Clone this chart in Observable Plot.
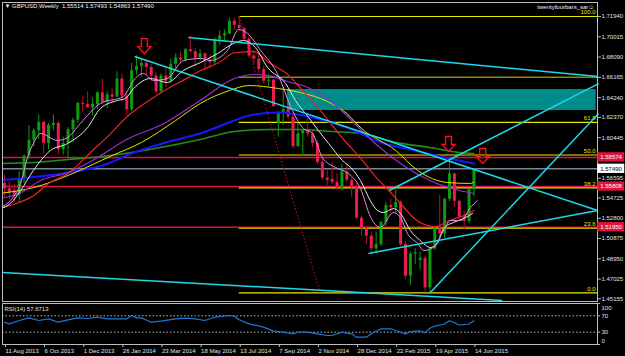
<!DOCTYPE html>
<html><head><meta charset="utf-8">
<script src="https://cdn.jsdelivr.net/npm/d3@7"></script>
<script src="https://cdn.jsdelivr.net/npm/@observablehq/plot@0.6"></script>
<style>
html,body{margin:0;padding:0;background:#000;}
#chart{width:625px;height:356px;overflow:hidden;background:#000;}
#chart svg{display:block;overflow:visible;}
</style></head><body><div id="chart"></div>
<script>
// ---------- DATA ----------
const opens  = [1.5610,1.5560,1.5540,1.5500,1.5650,1.5870,1.6020,1.6110,1.6190,1.5990,1.6160,1.6180,1.5930,1.5990,1.6120,1.6210,1.6370,1.6360,1.6330,1.6360,1.6470,1.6380,1.6450,1.6430,1.6600,1.6440,1.6310,1.6680,1.6720,1.6750,1.6710,1.6630,1.6480,1.6630,1.6580,1.6740,1.6800,1.6780,1.6880,1.6860,1.6800,1.6840,1.6780,1.6760,1.6970,1.7010,1.7030,1.7150,1.7110,1.7080,1.6980,1.6820,1.6790,1.6690,1.6580,1.6590,1.6180,1.6280,1.6310,1.6240,1.5960,1.6080,1.6110,1.6080,1.5990,1.5810,1.5660,1.5650,1.5620,1.5560,1.5720,1.5640,1.5580,1.5280,1.5180,1.5110,1.4990,1.5030,1.5240,1.5400,1.5380,1.5430,1.5030,1.4730,1.4940,1.4880,1.4900,1.4620,1.4990,1.5180,1.5130,1.5460,1.5700,1.5440,1.5290,1.5250,1.55514];
const highs  = [1.5690,1.5620,1.5600,1.5720,1.5880,1.6160,1.6130,1.6260,1.6200,1.6180,1.6260,1.6200,1.6050,1.6140,1.6230,1.6380,1.6440,1.6480,1.6420,1.6480,1.6600,1.6480,1.6510,1.6670,1.6650,1.6480,1.6750,1.6822,1.6790,1.6780,1.6740,1.6660,1.6650,1.6700,1.6790,1.6840,1.6860,1.6890,1.7007,1.6890,1.6880,1.6850,1.6830,1.6990,1.7060,1.7065,1.7180,1.7180,1.7194,1.7090,1.7000,1.6870,1.6840,1.6720,1.6640,1.6600,1.6290,1.6525,1.6350,1.6260,1.6185,1.6120,1.6230,1.6120,1.6020,1.5860,1.5740,1.5810,1.5700,1.5790,1.5790,1.5660,1.5610,1.5300,1.5200,1.5150,1.5150,1.5250,1.5430,1.5460,1.5550,1.5450,1.5060,1.4960,1.4990,1.4960,1.4920,1.5000,1.5200,1.5500,1.5470,1.5815,1.5710,1.5450,1.5350,1.5560,1.57493];
const lows   = [1.5480,1.5460,1.5430,1.5430,1.5610,1.5840,1.5960,1.6030,1.5890,1.5930,1.6110,1.5880,1.5880,1.5850,1.6000,1.6180,1.6280,1.6320,1.6250,1.6310,1.6360,1.6320,1.6370,1.6420,1.6380,1.6250,1.6290,1.6640,1.6620,1.6640,1.6580,1.6460,1.6460,1.6520,1.6560,1.6700,1.6740,1.6760,1.6850,1.6720,1.6770,1.6690,1.6700,1.6730,1.6920,1.6960,1.7020,1.7060,1.7060,1.6960,1.6800,1.6740,1.6660,1.6550,1.6530,1.6330,1.6050,1.6160,1.6220,1.5940,1.5950,1.5875,1.6050,1.5950,1.5790,1.5640,1.5590,1.5600,1.5540,1.5540,1.5620,1.5480,1.5270,1.5110,1.5030,1.4950,1.4950,1.5010,1.5200,1.5330,1.5330,1.5010,1.4700,1.4640,1.4840,1.4790,1.4580,1.4565,1.4970,1.5080,1.5090,1.5440,1.5380,1.5270,1.5170,1.5230,1.54863];
const closes = [1.5560,1.5520,1.5500,1.5650,1.5870,1.6020,1.6110,1.6190,1.5990,1.6160,1.6180,1.5930,1.5990,1.6120,1.6210,1.6370,1.6360,1.6330,1.6360,1.6470,1.6380,1.6450,1.6430,1.6600,1.6440,1.6310,1.6680,1.6720,1.6750,1.6710,1.6630,1.6480,1.6630,1.6580,1.6740,1.6800,1.6780,1.6880,1.6860,1.6800,1.6840,1.6780,1.6760,1.6970,1.7010,1.7030,1.7150,1.7110,1.7080,1.6980,1.6820,1.6790,1.6690,1.6580,1.6590,1.6340,1.6270,1.6310,1.6240,1.5960,1.6080,1.6110,1.6080,1.5990,1.5810,1.5660,1.5640,1.5620,1.5560,1.5720,1.5640,1.5580,1.5280,1.5180,1.5110,1.4990,1.5030,1.5240,1.5400,1.5380,1.5430,1.5030,1.4730,1.4940,1.4950,1.4900,1.4620,1.4990,1.5180,1.5130,1.5460,1.5700,1.5440,1.5290,1.5250,1.5550,1.57490];

const dateTickWeeks  = [0,8,16,24,32,40,48,56,64,72,80,88,96];
const dateTickLabels = ["11 Aug 2013","6 Oct 2013","1 Dec 2013","26 Jan 2014","23 Mar 2014","18 May 2014","13 Jul 2014","7 Sep 2014","2 Nov 2014","28 Dec 2014","22 Feb 2015","19 Apr 2015","14 Jun 2015"];
const priceTicks = [1.71940,1.70015,1.68090,1.66165,1.64240,1.62370,1.60445,1.58520,1.56595,1.54725,1.52800,1.50875,1.48950,1.47025,1.45155];
const rsiTicks = [0,30,70,100];

// moving averages (week, price)
const maWhiteW = [-0.8,1.2,3.3,5.9,9.4,12.9,17,19.6,23.1,24.7,26.4,29.9,33.3,36.6,40.1,43.6,46.8,48.9,51.3,53.8,57.5,59.5,62.2,64.2,66.3,69.1,70.8,72.8,74.8,76.3,77.5,79.6,81,83,85,87.1,88.5,89.8,91.8,93.9,95.7];
const maWhiteV = [1.5372,1.5420,1.5543,1.5733,1.5923,1.5989,1.6141,1.6321,1.6397,1.6416,1.6511,1.6606,1.6568,1.6682,1.6758,1.6843,1.6938,1.6966,1.6900,1.6710,1.6558,1.6397,1.6236,1.6112,1.5989,1.5828,1.5761,1.5638,1.5448,1.5353,1.5334,1.5372,1.5325,1.5164,1.5069,1.5002,1.5040,1.5183,1.5240,1.5278,1.5325];
const maVioletW = [-0.8,1.2,3.3,4.7,5.9,7.4,10.8,12.9,15.5,19.6,24.3,25.2,26.4,28.4,30.5,33.3,36.6,40.1,42.1,45.6,47.9,49.7,52.4,55.8,58.9,60.9,63,65,67.7,70.3,72.8,74.9,76.9,79.5,81,82.4,84.5,85.7,87.7,89.8,91.2,93.3,95.3,96.7];
const maVioletV = [1.5382,1.5448,1.5610,1.5856,1.5989,1.6084,1.6018,1.6046,1.6179,1.6369,1.6435,1.6492,1.6587,1.6653,1.6587,1.6606,1.6777,1.6796,1.6777,1.6871,1.7071,1.7033,1.6871,1.6653,1.6302,1.6141,1.6084,1.5856,1.5761,1.5705,1.5562,1.5287,1.5192,1.5334,1.5287,1.5135,1.5040,1.4974,1.5002,1.5164,1.5259,1.5259,1.5382,1.5448];
const maRedW = [-1,3,6,9,13,18,21,25,29,33,37,40,44,47,51,54,58,61,65,69,73,76,78,81,84,88,91,94,96];
const maRedV = [1.5372,1.5429,1.5496,1.5610,1.5705,1.5923,1.6050,1.6240,1.6380,1.6500,1.6600,1.6680,1.6760,1.6850,1.6860,1.6760,1.6640,1.6490,1.6280,1.6046,1.5840,1.5667,1.5572,1.5420,1.5270,1.5200,1.5259,1.5306,1.5353];
const maPurpleW = [-1,3,7.4,13,18,25,33,40,47,51,54,58.5,61,65,70,73.4,77,81,87,93,96];
const maPurpleV = [1.5468,1.5515,1.5638,1.5714,1.5828,1.6027,1.6188,1.6397,1.6606,1.6644,1.6634,1.6568,1.6539,1.6444,1.6255,1.6094,1.5942,1.5799,1.5638,1.5543,1.5515];
const maYellowW = [-1,6,13,22,28,35,40,46,50,56,60.5,66,70,73,80,84.5,90.6,95.3,96];
const maYellowV = [1.5515,1.5572,1.5686,1.5875,1.5999,1.6207,1.6368,1.6492,1.6539,1.6511,1.6473,1.6388,1.6274,1.6132,1.5923,1.5733,1.5619,1.5610,1.5620];
const maBlueW = [-1,13,20,26,33,40,47,50,56,63,70,77,84,90,96];
const maBlueV = [1.5640,1.5714,1.5780,1.5894,1.5999,1.6084,1.6207,1.6255,1.6283,1.6236,1.6141,1.5999,1.5923,1.5856,1.5799];
const maGreenW = [-1,6,13,20,26,33,40,47,54,60.5,67,73,80,87,93,96];
const maGreenV = [1.5799,1.5809,1.5837,1.5866,1.5904,1.5961,1.6027,1.6103,1.6122,1.6122,1.6103,1.6084,1.6000,1.5951,1.5904,1.5894];

// RSI(14)
const rsiWeeks  = [0,1,3,5,7,9,11,13,15,17,19,21,23,25,26,27,28,30,32,35,37,39,41,43,46,47,48,50,53,55,57,59,60,62,64,66,67,69,71,72,74,75,77,79,81,82,83,85,86,87,88,90,91,92,93,95,96];
const rsiValues = [54.4,50.4,58.5,65,58.5,62.6,54.4,60.2,65,63.4,66.6,62.6,62.6,62.6,70.7,65,65,54.4,56.9,62.6,64.2,62.6,58.5,66.6,70.7,69,60.2,50.4,42.3,32.5,30,26,30,30,26,22,22,30,26,17.8,17.8,26,38.3,38.3,30,26,31.6,33,29,39.6,45,50,58,53,47.6,50,57.7];

// drawn objects
const trendX1 = [26.6,37.6,-0.4,86.9,78.7,74.4];
const trendY1 = [1.6815,1.6995,1.4765,1.4566,1.5543,1.4945];
const trendX2 = [121.3,121.3,101.8,121.5,121.5,121.3];
const trendY2 = [1.5353,1.6625,1.4500,1.6274,1.6558,1.5353];
const zoneWeeks = [57.9,121.0];
const zonePrices = [1.6302,1.6501];
const hLinePrices = [1.58574,1.57490,1.55808,1.51950];
const hLineColors = ["#dc143c","#778899","#dc143c","#dc143c"];
const fibLevels = ["0.0","23.6","38.2","50.0","61.8","100.0"];
const fibPrices = [1.4572,1.5185,1.5569,1.5880,1.6190,1.7194];
const fibStartWeek = 48;
const fibDiagWeeks = [48,64.5];
const fibDiagPrices = [1.7194,1.4575];
const extraLinePrice = 1.6617;
const arrowWeeks = [28.6,90.8,97.8];
const arrowPrices = [1.6913,1.5984,1.5870];
const axisBoxPrices = [1.58574,1.57490,1.55808,1.51950];
const axisBoxFill = ["#dc143c","#ffffff","#dc143c","#dc143c"];
const axisBoxText = ["#ffffff","#000000","#ffffff","#ffffff"];

// ---------- BUILD ----------
const xMin = -0.41, xMax = 121.27;
const yMin = 1.4490, yMax = 1.7327;
const perPx = (xMax-xMin)/595;
const candles = opens.map((o,i)=>({i,o,h:highs[i],l:lows[i],c:closes[i]}));
const ser = (w,v)=>w.map((x,k)=>({w:x,v:v[k]}));
const bullC = "#0b9d0b", bearC = "#ec1c4e", bearW = "#b3122f";
const trends = trendX1.map((x,k)=>({x1:x,y1:trendY1[k],x2:trendX2[k],y2:trendY2[k]}));
const hLines = hLinePrices.map((p,k)=>({p,c:hLineColors[k]}));
const fibs = fibPrices.map((p,k)=>({p,lab:fibLevels[k],x1:fibStartWeek,x2:xMax}));
const arrows = arrowWeeks.map((w,k)=>({w,p:arrowPrices[k]}));
const boxes = axisBoxPrices.map((p,k)=>({p,x1:xMax+0.05,x2:xMax+0.05+27*perPx,fill:axisBoxFill[k],tc:axisBoxText[k],lab:p.toFixed(5)}));
const labelByWeek = new Map(dateTickWeeks.map((w,k)=>[w,dateTickLabels[k]]));
const rsiLabels = rsiTicks.map(v=>({v,x1:xMax,x2:xMax+3*perPx}));

const arrowSymbol = {draw(ctx,size){const r=Math.sqrt(size/Math.PI);const s=r/7.5;
  ctx.moveTo(-3*s,-7.5*s);ctx.lineTo(3*s,-7.5*s);ctx.lineTo(3*s,0.5*s);ctx.lineTo(6.5*s,0.5*s);
  ctx.lineTo(0,7.5*s);ctx.lineTo(-6.5*s,0.5*s);ctx.lineTo(-3*s,0.5*s);ctx.closePath();}};

const font = "'Liberation Sans', Arial, sans-serif";
const FS = 6;
const maLine = (w,v,color,sw)=>Plot.line(ser(w,v),{x:"w",y:"v",stroke:color,strokeWidth:sw,curve:"monotone-x",clip:true});
const rsiText = (vals,dy)=>Plot.text(rsiLabels.filter(d=>vals.includes(d.v)),{x:"x2",y:"v",text:d=>String(d.v),dy,dx:1,textAnchor:"start",fill:"#e0e0e0",fontSize:FS});

const main = Plot.plot({
  width:625, height:302, marginLeft:2, marginRight:28, marginTop:2, marginBottom:1,
  x:{domain:[xMin,xMax], axis:null},
  y:{domain:[yMin,yMax], axis:null},
  style:{background:"#000", fontFamily:font, fontSize:FS+"px", color:"#e0e0e0", overflow:"visible"},
  marks:[
    Plot.rect([{}],{x1:()=>zoneWeeks[0],x2:()=>zoneWeeks[1],y1:()=>zonePrices[0],y2:()=>zonePrices[1],fill:"#008b8b"}),
    Plot.ruleY(hLines,{y:"p",stroke:"c",strokeWidth:1.5}),
    Plot.ruleY([extraLinePrice],{x1:fibStartWeek,x2:xMax,stroke:"#8a8a00",strokeWidth:1.5}),
    Plot.ruleY(fibs,{y:"p",x1:"x1",x2:"x2",stroke:"#e8e800",strokeWidth:1.2}),
    Plot.text(fibs,{x:"x2",y:"p",text:"lab",textAnchor:"end",dx:-2,dy:-4,fill:"#e8e800",fontSize:FS}),
    Plot.link([{}],{x1:()=>fibDiagWeeks[0],y1:()=>fibDiagPrices[0],x2:()=>fibDiagWeeks[1],y2:()=>fibDiagPrices[1],stroke:"#e01010",strokeDasharray:"1.5,2",strokeWidth:1}),
    Plot.ruleX(candles,{x:"i",y1:"l",y2:"h",stroke:d=>d.c>=d.o?bullC:bearW,strokeWidth:1}),
    Plot.ruleX(candles,{x:"i",y1:"o",y2:"c",stroke:d=>d.c>=d.o?bullC:bearC,strokeWidth:3}),
    maLine(maGreenW,maGreenV,"#1f8f1f",1.6),
    maLine(maBlueW,maBlueV,"#1818ff",2),
    maLine(maYellowW,maYellowV,"#e0e000",1),
    maLine(maPurpleW,maPurpleV,"#9a2fd0",1.2),
    maLine(maRedW,maRedV,"#f02020",1.2),
    maLine(maWhiteW,maWhiteV,"#e8e8e8",1),
    maLine(maVioletW,maVioletV,"#e58be8",1),
    Plot.link(trends,{x1:"x1",y1:"y1",x2:"x2",y2:"y2",stroke:"#1ed8e8",strokeWidth:1.5}),
    Plot.dot(arrows,{x:"w",y:"p",r:7.5,symbol:arrowSymbol,stroke:"#ff1010",fill:"none",strokeWidth:1.4}),
    Plot.frame({stroke:"#bdbdbd"}),
    Plot.axisY({anchor:"right",ticks:priceTicks,tickFormat:d=>d.toFixed(5),tickSize:3,tickPadding:1,stroke:"#bdbdbd",fill:"#e0e0e0",fontSize:FS}),
    Plot.rect(boxes,{x1:"x1",x2:"x2",y1:d=>d.p-0.0044,y2:d=>d.p+0.0044,fill:"fill"}),
    Plot.text(boxes,{x:"x1",y:"p",text:"lab",fill:"tc",textAnchor:"start",dx:2.5,fontSize:FS}),
    Plot.text(["\u25BC GBPUSD,Weekly  1.55514 1.57493 1.54863 1.57490"],{frameAnchor:"top-left",dx:2,dy:1,lineAnchor:"top",fill:"#f0f0f0",fontSize:FS}),
    Plot.text(["twentyfourbars_sar\u263A"],{frameAnchor:"top-right",dx:-3,dy:2,lineAnchor:"top",textAnchor:"end",fill:"#f0f0f0",fontSize:FS})
  ]
});

const rsi = Plot.plot({
  width:625, height:54, marginLeft:2, marginRight:28, marginTop:1, marginBottom:12,
  x:{domain:[xMin,xMax], axis:null},
  y:{domain:[0,100], axis:null},
  style:{background:"#000", fontFamily:font, fontSize:FS+"px", color:"#e0e0e0", overflow:"visible"},
  marks:[
    Plot.ruleY([30,70],{stroke:"#bdbdbd",strokeDasharray:"1.5,2",strokeWidth:1}),
    Plot.line(ser(rsiWeeks,rsiValues),{x:"w",y:"v",stroke:"#1e78dc",strokeWidth:1.2}),
    Plot.frame({stroke:"#bdbdbd"}),
    Plot.ruleY(rsiLabels,{y:"v",x1:"x1",x2:"x2",stroke:"#bdbdbd"}),
    rsiText([100],4.5),
    rsiText([70,30],0),
    rsiText([0],-3),
    Plot.axisX({anchor:"bottom",ticks:dateTickWeeks,tickFormat:d=>labelByWeek.get(d),tickSize:3,tickPadding:1,textAnchor:"start",dx:1,stroke:"#bdbdbd",fill:"#e0e0e0",fontSize:FS}),
    Plot.text(["RSI(14) 57.6713"],{frameAnchor:"top-left",dx:2,dy:3,lineAnchor:"top",fill:"#e0e0e0",fontSize:FS})
  ]
});

const root = document.getElementById("chart");
root.appendChild(main);
root.appendChild(rsi);
</script></body></html>
